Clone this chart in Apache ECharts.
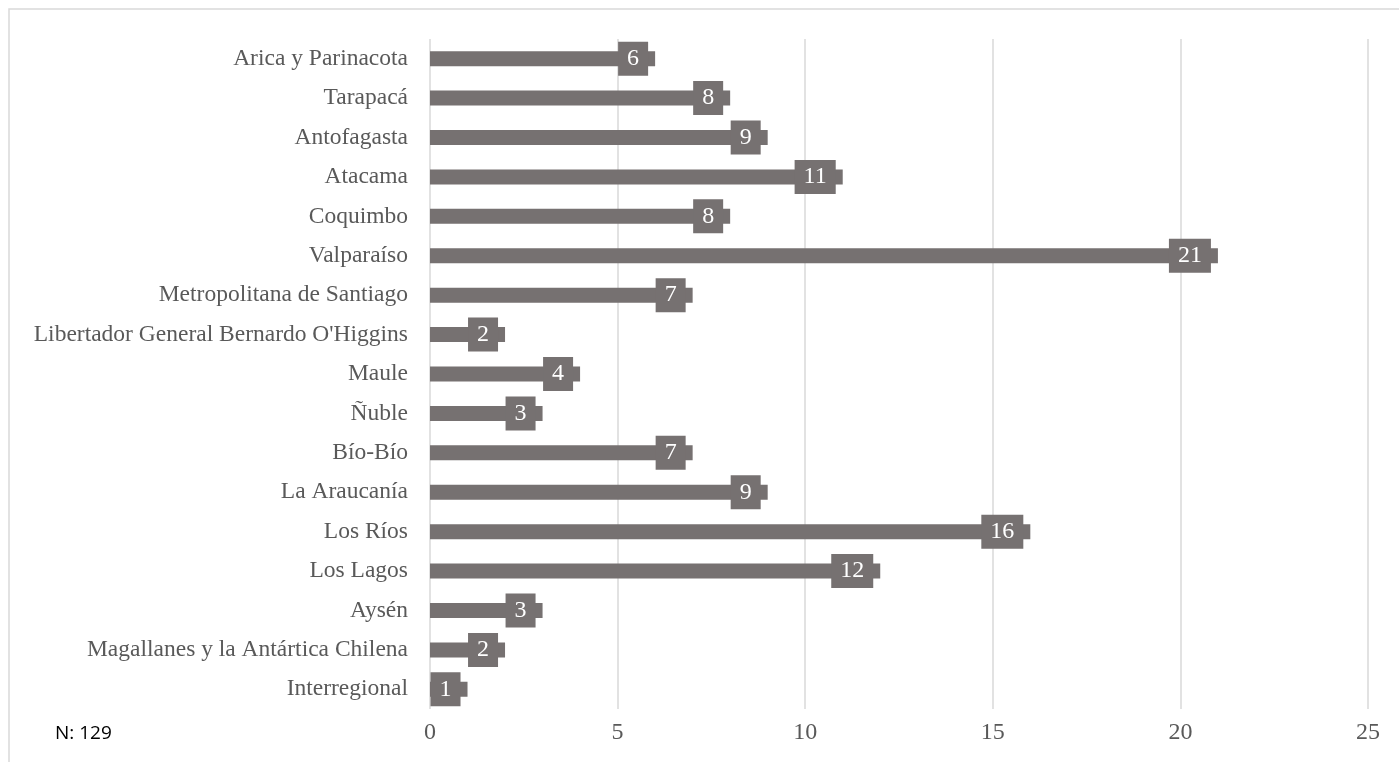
<!DOCTYPE html>
<html>
<head>
<meta charset="utf-8">
<script src="https://cdn.jsdelivr.net/npm/echarts@6/dist/echarts.min.js"></script>
<style>
  html, body { margin: 0; padding: 0; background: #fff; }
  #chart { width: 1399px; height: 762px; }
</style>
</head>
<body>
<div id="chart"></div>
<script>
// Regions, listed top to bottom
const regions = [
  'Arica y Parinacota', 'Tarapacá', 'Antofagasta', 'Atacama', 'Coquimbo',
  'Valparaíso', 'Metropolitana de Santiago', "Libertador General Bernardo O'Higgins",
  'Maule', 'Ñuble', 'Bío-Bío', 'La Araucanía', 'Los Ríos', 'Los Lagos',
  'Aysén', 'Magallanes y la Antártica Chilena', 'Interregional'
];
const counts = [6, 8, 9, 11, 8, 21, 7, 2, 4, 3, 7, 9, 16, 12, 3, 2, 1];
const axisTicks = [0, 5, 10, 15, 20, 25];
const noteText = 'N: 129';

const barColor = '#767171';
const chart = echarts.init(document.getElementById('chart'), null, { renderer: 'canvas' });

chart.setOption({
  animation: false,
  backgroundColor: '#ffffff',
  grid: { left: 430, right: 31, top: 39, bottom: 53, containLabel: false },
  graphic: [
    {
      type: 'rect',
      shape: { x: 9, y: 9, width: 1400, height: 800 },
      style: { fill: 'none', stroke: '#d9d9d9', lineWidth: 1.5 },
      silent: true
    },
    {
      type: 'text',
      left: 55,
      top: 724,
      style: { text: noteText, font: '19px "Open Sans"', fill: '#000000' }
    }
  ],
  xAxis: {
    type: 'value',
    min: axisTicks[0],
    max: axisTicks[axisTicks.length - 1],
    interval: axisTicks[1] - axisTicks[0],
    axisLine: { show: false },
    axisTick: { show: false },
    splitLine: { show: true, lineStyle: { color: '#d9d9d9', width: 1.5 } },
    axisLabel: {
      margin: 12,
      color: '#595959',
      fontFamily: 'Liberation Serif',
      fontSize: 24
    }
  },
  yAxis: {
    type: 'category',
    data: regions,
    inverse: true,
    axisLine: { show: false },
    axisTick: { show: false },
    axisLabel: {
      margin: 22,
      color: '#595959',
      fontFamily: 'Liberation Serif',
      fontSize: 23.5
    }
  },
  series: [{
    type: 'bar',
    data: counts,
    barWidth: 15,
    itemStyle: { color: barColor },
    label: {
      show: true,
      position: 'insideRight',
      distance: 7,
      color: '#ffffff',
      fontFamily: 'Liberation Serif',
      fontSize: 24,
      lineHeight: 24,
      backgroundColor: barColor,
      padding: [5, 9, 5, 9]
    }
  }]
});
</script>
</body>
</html>
